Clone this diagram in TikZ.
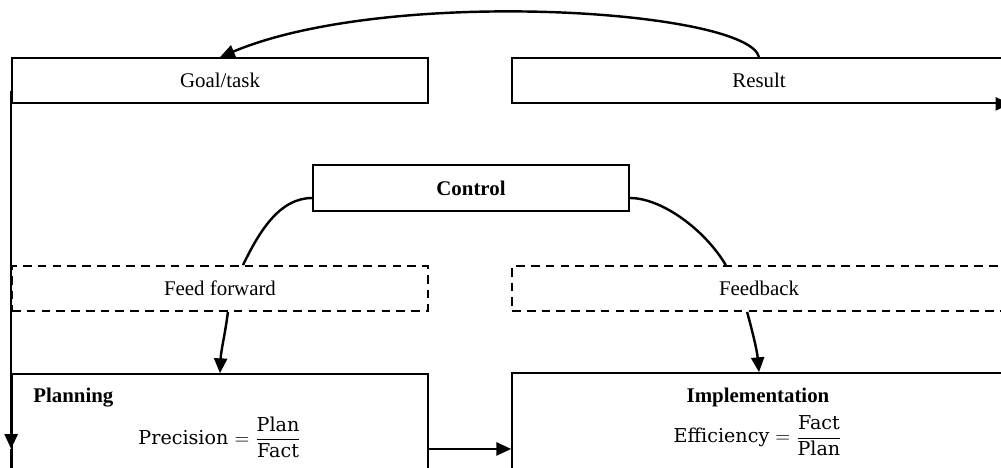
\documentclass[tikz,border=0pt]{standalone}
\usepackage{amsmath}
\usepackage{fontspec}
\setmainfont{Liberation Serif}
\newfontfamily\fmfont{DejaVu Serif}
\usetikzlibrary{arrows.meta,calc}
\begin{document}
\begin{tikzpicture}[x=0.575pt,y=-0.575pt,
  lbl/.style={font=\fontsize{12}{14}\selectfont},
  blbl/.style={font=\bfseries\fontsize{12}{14}\selectfont},
  box/.style={draw,line width=1pt,inner sep=0pt,lbl},
  dbox/.style={box,dash pattern=on 5pt off 3.5pt},
  narrow/.style={minimum width=239.2pt},
  wide/.style={minimum width=284pt},
  conn/.style={line width=1.4pt},
  arr/.style={conn,-{Triangle[length=8.5pt,width=7.5pt]}},
  fm/.style={font=\fmfont\fontsize{11}{13}\selectfont,inner sep=0pt},
]
\useasboundingbox (0,0) rectangle (1001,467);
\clip (0,0) rectangle (1001,467);

\node[box,narrow,minimum height=25.9pt] (goal) at (220,80.5) {Goal/task};
\node[box,wide,minimum height=25.9pt] (res) at (759,80.5) {Result};
\node[box,blbl,minimum width=181.7pt,minimum height=26.45pt] (ctl) at (471,188) {Control};
\node[dbox,narrow,minimum height=25.9pt] (ff) at (220,288.5) {Feed forward};
\node[dbox,wide,minimum height=25.9pt] (fb) at (759,288.5) {Feedback};
\node[box,narrow,minimum height=59.8pt] (plan) at (220,426) {};
\node[box,wide,minimum height=60.4pt] (impl) at (759,425.5) {};

\node[blbl,anchor=west,inner sep=0pt] (plant) at (33,398) {Planning};
\node[blbl,inner sep=0pt] (implt) at (758,397) {Implementation};
\node[fm] (planf) at (220,437) {Precision $= \dfrac{\text{Plan}}{\text{Fact}}$};
\node[fm] (implf) at (758,436) {Efficiency $= \dfrac{\text{Fact}}{\text{Plan}}$};

% top feedback curve
\draw[arr] (res.north) .. controls (748,10) and (390,-14) .. (goal.north);
% control to feed forward / feedback
\draw[conn] ([yshift=-5.75pt]ctl.west) .. controls (280,198) and (260,230) .. ($(ff.north west)!0.555!(ff.north east)$);
\draw[conn] ([yshift=-5.75pt]ctl.east) .. controls (662,198) and (705,230) .. ($(fb.north west)!0.433!(fb.north east)$);
% down arrows
\draw[arr] ($(ff.south west)!0.519!(ff.south east)$) .. controls (225,335) and (221,350) .. (plan.north);
\draw[arr] ($(fb.south west)!0.476!(fb.south east)$) .. controls (752,330) and (757,350) .. (impl.north);
% planning to implementation
\draw[arr] ([yshift=-13.2pt]plan.east) coordinate (pe) -- (pe -| impl.west);
% left vertical line
\coordinate (ls) at ([yshift=7.5pt]goal.south west);
\coordinate (lt) at ([yshift=17.25pt]plan.south west);
\draw[arr] (ls) -- (lt);
\draw[conn] (lt) -- (plan.south west);
% small arrow at result corner (mostly off the page)
\draw[arr] ([xshift=-6pt]res.south east) -- ([xshift=2pt]res.south east);
\end{tikzpicture}
\end{document}
